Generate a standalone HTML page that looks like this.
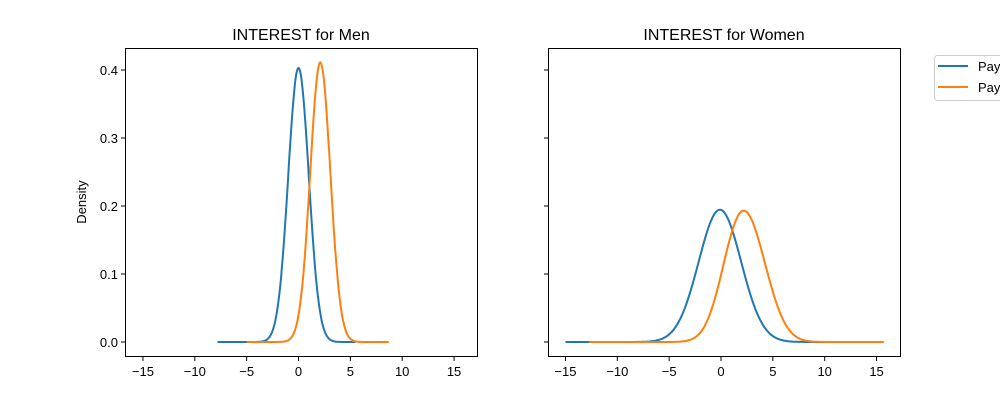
<!DOCTYPE html>
<html><head><meta charset="utf-8"><style>
body{margin:0;background:#fff}
svg text{font-family:"Liberation Sans","DejaVu Sans",sans-serif;}
</style></head><body>
<svg id="s" width="1000" height="400" xmlns="http://www.w3.org/2000/svg">
<rect width="1000" height="400" fill="#fff"/>
<g id="g"></g>
<text x="301" y="40" font-size="16" text-anchor="middle">INTEREST for Men</text>
<text x="724" y="40" font-size="16" text-anchor="middle">INTEREST for Women</text>
<text x="86" y="202" font-size="13" text-anchor="middle" transform="rotate(-90 86 202)">Density</text>
<rect x="934.5" y="55.5" width="80" height="45" rx="3" fill="#fff" stroke="#ccc"/>
<line x1="938" y1="66" x2="968" y2="66" stroke="#1f77b4" stroke-width="2"/>
<line x1="938" y1="87" x2="968" y2="87" stroke="#ff7f0e" stroke-width="2"/>
<text x="978" y="71" font-size="13">Pay</text>
<text x="978" y="92" font-size="13">Pay</text>
</svg>
<script>
const g=document.getElementById('g');let h='';
const Y=v=>342-v*680;
function ax(x0,x1,zero,ylabels){
 h+=`<rect x="${x0+.5}" y="48.5" width="${x1-x0}" height="308" fill="none" stroke="#000" stroke-width="1"/>`;
 for(let t=-15;t<=15;t+=5){const x=zero+t*10.37;h+=`<line x1="${x}" y1="357" x2="${x}" y2="361" stroke="#000"/><text x="${x}" y="376" font-size="13" text-anchor="middle">${t<0?'\u2212'+(-t):t}</text>`;}
 for(let i=0;i<=4;i++){const v=i/10,y=Y(v);h+=`<line x1="${x0-4}" y1="${y}" x2="${x0}" y2="${y}" stroke="#000"/>`;if(ylabels)h+=`<text x="${x0-7}" y="${y+5}" font-size="13" text-anchor="end">${v.toFixed(1)}</text>`;}
}
function curve(zero,a,b,f,c){let d='';for(let i=0;i<=200;i++){const x=a+(b-a)*i/200;d+=(i?'L':'M')+(zero+x*10.37).toFixed(1)+','+Y(f(x)).toFixed(1);}h+=`<path d="${d}" fill="none" stroke="${c}" stroke-width="2"/>`;}
const N=(x,m,s,w)=>w*Math.exp(-0.5*((x-m)/s)**2)/(s*Math.sqrt(2*Math.PI));
ax(125,477,298.5,true);ax(548,900,721,false);
curve(298.5,-7.8,5.5,x=>N(x,0,0.99,1),'#1f77b4');
curve(298.5,-5,8.7,x=>N(x,2.1,0.97,1),'#ff7f0e');
curve(721,-15,12,x=>N(x,-0.1,2.05,1),'#1f77b4');
curve(721,-12.7,15.7,x=>0.94*(N(x,1.3,1.6,0.4)+N(x,3.0,1.8,0.6)),'#ff7f0e');
g.innerHTML=h;
</script>
</body></html>
